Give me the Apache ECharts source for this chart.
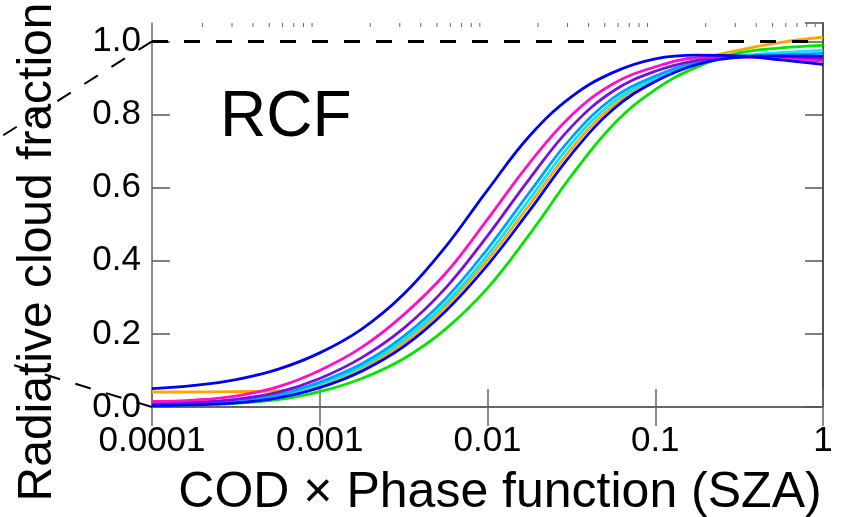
<!DOCTYPE html>
<html>
<head>
<meta charset="utf-8">
<script src="https://cdn.jsdelivr.net/npm/echarts@6/dist/echarts.min.js"></script>
<style>
html,body{margin:0;padding:0;background:#fff;}
#chart{width:844px;height:517px;}
</style>
</head>
<body>
<div id="chart"></div>
<script>
// ---- data ----
const xValues = [0.0001,0.000178,0.000316,0.000562,0.001,0.00178,0.00316,0.00562,0.01,0.0178,0.0316,0.0562,0.1,0.178,0.316,0.562,1];
const xTickLabels = ['0.0001','0.001','0.01','0.1','1'];
const yTickLabels = ['0.0','0.2','0.4','0.6','0.8','1.0'];
const blue1   = [0.050,0.059,0.075,0.103,0.148,0.213,0.308,0.438,0.593,0.741,0.848,0.915,0.952,0.962,0.960,0.949,0.937];
const magenta = [0.015,0.019,0.030,0.055,0.100,0.163,0.252,0.365,0.513,0.667,0.797,0.884,0.930,0.955,0.958,0.952,0.946];
const purple  = [0.010,0.013,0.021,0.040,0.078,0.135,0.215,0.325,0.468,0.624,0.766,0.864,0.918,0.948,0.957,0.956,0.952];
const sky     = [0.008,0.010,0.017,0.034,0.068,0.118,0.193,0.296,0.432,0.587,0.736,0.845,0.905,0.943,0.958,0.963,0.967];
const cyan    = [0.007,0.009,0.015,0.031,0.063,0.111,0.183,0.283,0.415,0.568,0.720,0.834,0.898,0.940,0.960,0.969,0.975];
const orange  = [0.041,0.041,0.042,0.044,0.060,0.105,0.174,0.274,0.402,0.553,0.706,0.824,0.895,0.948,0.976,0.997,1.011];
const blue2   = [0.004,0.006,0.011,0.025,0.053,0.098,0.165,0.262,0.388,0.537,0.691,0.814,0.890,0.937,0.956,0.960,0.959];
const green   = [0.005,0.006,0.010,0.020,0.042,0.078,0.132,0.213,0.325,0.472,0.632,0.772,0.868,0.930,0.968,0.982,0.989];
const referenceLevel = 1.0;

const seriesDefs = [
  {name:'orange', data:orange, color:'#ffa500'},
  {name:'green', data:green, color:'#00e600'},
  {name:'cyan', data:cyan, color:'#00e8ff'},
  {name:'sky', data:sky, color:'#00a0ff'},
  {name:'purple', data:purple, color:'#7a10d8'},
  {name:'magenta', data:magenta, color:'#ff10c8'},
  {name:'blue2', data:blue2, color:'#0000ff'},
  {name:'blue1', data:blue1, color:'#0000f0'}
];

const FONT = "'Liberation Sans', Arial, Helvetica, sans-serif";
const chart = echarts.init(document.getElementById('chart'), null, {renderer:'canvas'});

const series = seriesDefs.map((s, i) => ({
  name: s.name,
  type: 'line',
  data: xValues.map((x, j) => [x, s.data[j]]),
  showSymbol: false,
  smooth: 0.4,
  lineStyle: {color: s.color, width: 2.8},
  itemStyle: {color: s.color},
  z: 3 + i,
  animation: false
}));
series[0].markLine = {
  silent: true, symbol: 'none', animation: false,
  label: {show: false},
  lineStyle: {color: '#000', width: 3, type: [16, 16]},
  data: [{yAxis: referenceLevel}]
};

function xLabel(v) {
  const k = Math.round(Math.log10(v)) + 4;
  return xTickLabels[k] !== undefined ? xTickLabels[k] : '';
}

chart.setOption({
  animation: false,
  grid: {left: 152, right: 21, top: 23, bottom: 110, containLabel: false},
  xAxis: [
    {type: 'log', logBase: 10, min: 0.0001, max: 1, position: 'bottom',
     axisLine: {show: true, lineStyle: {color: '#555', width: 2, type: 'dotted'}},
     axisTick: {show: true, inside: true, length: 18, lineStyle: {color: '#666', width: 1.5}},
     axisLabel: {show: true, formatter: xLabel, color: '#000', fontSize: 35, fontFamily: FONT, margin: 17},
     splitLine: {show: false}},
    {type: 'log', logBase: 10, min: 0.0001, max: 1, position: 'top',
     axisLine: {show: true, lineStyle: {color: '#666', width: 1.5}},
     axisTick: {show: true, inside: true, length: 19, lineStyle: {color: '#666', width: 1.5}},
     axisLabel: {show: false}, splitLine: {show: false}}
  ],
  yAxis: [
    {type: 'value', min: 0, max: 1.05, interval: 0.2, position: 'left',
     axisLine: {show: true, lineStyle: {color: '#666', width: 1.5}},
     axisTick: {show: true, inside: true, length: 18, lineStyle: {color: '#555', width: 1.5}},
     axisLabel: {show: true, color: '#000', fontSize: 35, fontFamily: FONT, margin: 11, showMaxLabel: false,
       formatter: v => { const k = Math.round(v / 0.2); return (v <= 1.001 && Math.abs(v - k*0.2) < 1e-6) ? yTickLabels[k] : ''; }},
     splitLine: {show: false}},
    {type: 'value', min: 0, max: 1.05, interval: 0.2, position: 'right',
     axisLine: {show: true, lineStyle: {color: '#555', width: 2}},
     axisTick: {show: true, inside: true, length: 18, lineStyle: {color: '#555', width: 1.5}},
     axisLabel: {show: false}, splitLine: {show: false}}
  ],
  series: series
});

// decorations computed through the axes
const topY = chart.convertToPixel({yAxisIndex: 0}, 1.05);
const oneY = chart.convertToPixel({yAxisIndex: 0}, 1.0);
const zeroY = chart.convertToPixel({yAxisIndex: 0}, 0);
const leftX = chart.convertToPixel({xAxisIndex: 0}, 0.0001);
const graphics = [];
for (let e = -4; e < 0; e++) {
  for (let m = 2; m <= 9; m++) {
    const px = chart.convertToPixel({xAxisIndex: 0}, m * Math.pow(10, e));
    graphics.push({type: 'line', silent: true, z: 10,
      shape: {x1: px, y1: topY, x2: px, y2: topY + 4},
      style: {stroke: '#666', lineWidth: 1}});
  }
}
graphics.push({type: 'line', silent: true, z: 1,
  shape: {x1: leftX, y1: oneY, x2: 0, y2: oneY + 96},
  style: {stroke: '#000', lineWidth: 2, lineDash: [16, 16]}});
graphics.push({type: 'line', silent: true, z: 1,
  shape: {x1: leftX, y1: zeroY, x2: 0, y2: zeroY - 46},
  style: {stroke: '#000', lineWidth: 2, lineDash: [16, 16]}});
graphics.push({type: 'text', silent: true, z: 20, x: 220, y: 118,
  style: {text: 'RCF', font: '64px ' + FONT, fill: '#000', align: 'left', verticalAlign: 'middle'}});
graphics.push({type: 'text', silent: true, z: 20, x: 38, y: 252, rotation: Math.PI / 2,
  style: {text: 'Radiative cloud fraction', font: '48px ' + FONT, fill: '#000', align: 'center', verticalAlign: 'middle'}});
graphics.push({type: 'text', silent: true, z: 20, x: 500, y: 493,
  style: {text: 'COD \u00d7 Phase function (SZA)', font: '50px ' + FONT, fill: '#000', align: 'center', verticalAlign: 'middle'}});
chart.setOption({graphic: graphics});
</script>
</body>
</html>
